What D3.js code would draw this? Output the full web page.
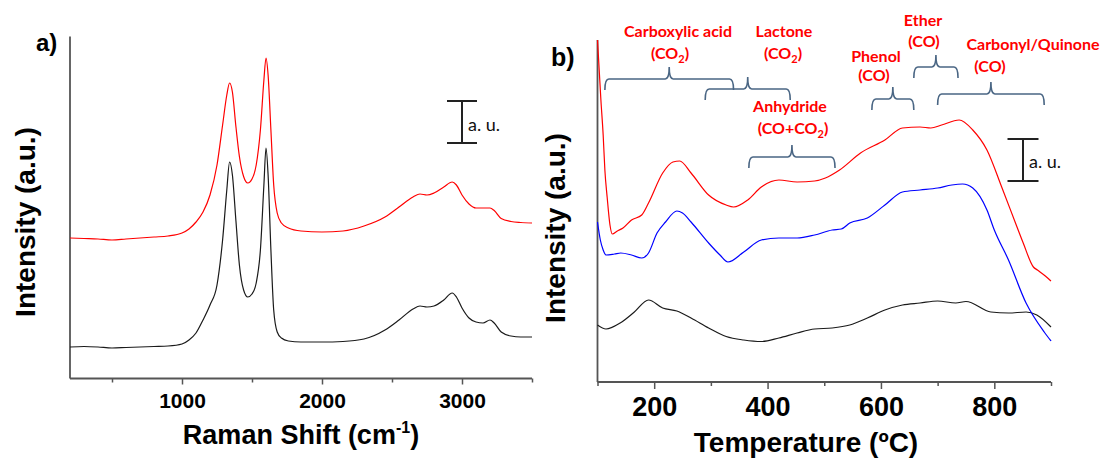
<!DOCTYPE html>
<html><head><meta charset="utf-8">
<script src="https://cdn.jsdelivr.net/npm/d3@7"></script>
<style>body{margin:0;background:#fff}svg{display:block}</style>
</head><body><svg id="c" width="1103" height="458"></svg>
<script>
// ---------- DATA ----------
// a) Raman spectra (arbitrary intensity)
const ramanShift = [200,300,400,500,600,700,800,900,1000,1050,1100,1150,1200,1250,1290,1320,1340,1360,1385,1410,1440,1470,1500,1530,1560,1585,1600,1615,1635,1655,1680,1710,1760,1850,2000,2150,2300,2450,2550,2650,2700,2750,2800,2870,2930,2960,3000,3050,3100,3150,3200,3230,3280,3350,3420,3500];
const ramanBlack = [31.5,32,31.5,30.5,31,31.5,32,32.5,34.5,38.5,45.5,58.5,73.5,93.5,138.5,188.5,216.5,203.5,158,113.5,88.5,81.5,84.5,95.5,128.5,193.5,230.5,203.5,128.5,68.5,46.5,40.5,37.5,36.5,36.5,37,39.5,48.5,58.5,69.5,72.5,71.5,72.5,78.5,85.5,81.5,70.5,60.5,56.5,55.5,58.5,55.5,46.5,42.5,41.5,41.5];
const ramanRed = [140.5,140,139.5,138.5,139.5,140.5,141.5,142.5,145.5,149.5,156.5,166.5,183.5,213.5,253.5,283.5,295.5,286.5,252,222,202,195.5,199.5,213.5,248.5,298.5,320.5,303.5,248.5,193.5,165.5,155.5,150.5,147.5,146.5,147.5,152.5,161.5,171.5,181.5,184.5,183.5,185.5,191.5,196.5,193.5,183.5,174.5,170.5,170.5,170.5,168,160,157,156,155.5];
const ramanTicks = [1000,2000,3000];
const ramanMinor = [500,1500,2500,3500];

// b) TPD profiles (arbitrary intensity)
const tempRed = [100,103,106,110,113,117,122,126,135,145,160,178,190,215,233,245,265,296,327,340,365,389,420,452,483,502,527,564,607,638,669,688,707,738,762,787,813,838,851,869,876,890,900];
const tpdRed = [342,312,282,247,212,185,157,148,151,154,162,167,179,209,220,221,209,187,177,175,182,195,202,200,201,204,212,229,242,254,255,254,257,262,252,232,195,158,139,115,112,106,101];
const tempBlue = [100,105,110,115,130,141,160,178,190,205,220,240,250,265,296,316,330,358,389,420,452,483,514,530,545,576,607,638,669,700,725,744,762,787,800,825,856,888,900];
const tpdBlue = [160,142,132,127,128,129,127,124,129,149,160,171,169,160,139,127,120,130,142,144,144,147,152,153,159,164,177,190,192,194,197,198,194,172,152,122,79,50,41];
const tempBlack = [100,115,140,165,190,215,240,265,296,327,358,389,420,452,483,514,545,576,607,638,669,700,732,750,794,825,856,875,900];
const tpdBlack = [57,53,59,70,82,74,71,64,54,45.5,42,40.5,44,49,53,54,57,64,72,77,79,81,79,80.5,70,69,70,67,55];
const tempTicks = [200,400,600,800];
const tempMinor = [100,300,500,700,900];

// surface groups (name, evolved gas, temperature range)
const groupNames = ["Carboxylic acid","Lactone","Anhydride","Phenol","Ether","Carbonyl/Quinone"];
const groupGas = ["CO2","CO2","CO+CO2","CO","CO","CO"];
const groupRange = [[113,340],[290,440],[367,519],[584,658],[658,736],[700,888]];

// ---------- LAYOUT ----------
const svg = d3.select("#c");
const AX = "#555";
const axisFont = "'Liberation Sans', Arial, sans-serif";
const annFont = "Lato, 'Liberation Sans', sans-serif";

function drawAxis(g, x, y, ticks, minor, majLen, minLen, fs, labelDy) {
  const yb = y.range()[0];
  const major = d3.axisBottom(x).tickValues(ticks).tickFormat(d3.format("d"))
    .tickSize(majLen).tickSizeOuter(0).tickPadding(labelDy);
  const gm = g.append("g").attr("transform", `translate(0,${yb})`).call(major);
  gm.select(".domain").remove();
  gm.selectAll("line").attr("stroke", AX).attr("stroke-width", 1.5);
  gm.selectAll("text").attr("font-family", axisFont).attr("font-weight", "bold")
    .attr("font-size", fs).attr("fill", "#000");
  const mn = d3.axisBottom(x).tickValues(minor).tickSize(minLen).tickFormat("");
  const gn = g.append("g").attr("transform", `translate(0,${yb})`).call(mn);
  gn.select(".domain").remove();
  gn.selectAll("line").attr("stroke", AX).attr("stroke-width", 1.5);
  g.append("line").attr("x1", x.range()[0]).attr("x2", x.range()[1]).attr("y1", yb).attr("y2", yb)
    .attr("stroke", AX).attr("stroke-width", 1.8);
  g.append("line").attr("x1", x.range()[0]).attr("x2", x.range()[0]).attr("y1", y.range()[0]).attr("y2", y.range()[1])
    .attr("stroke", AX).attr("stroke-width", 1.8);
}

function drawLine(g, x, y, xs, ys, color) {
  const pts = xs.map((v, i) => [v, ys[i]]);
  g.append("path").datum(pts)
    .attr("fill", "none").attr("stroke", color).attr("stroke-width", 1.2)
    .attr("d", d3.line().x(d => x(d[0])).y(d => y(d[1])).curve(d3.curveMonotoneX));
}

function scaleBar(g, cx, y0, y1, w, tx, ty) {
  g.append("line").attr("x1", cx).attr("x2", cx).attr("y1", y0).attr("y2", y1).attr("stroke", "#222").attr("stroke-width", 2);
  [y0, y1].forEach(yy => g.append("line").attr("x1", cx - w / 2).attr("x2", cx + w / 2).attr("y1", yy).attr("y2", yy)
    .attr("stroke", "#222").attr("stroke-width", 2));
  g.append("text").attr("x", tx).attr("y", ty).attr("font-family", annFont).attr("font-size", 18).attr("fill", "#111").text("a. u.");
}

// ---------- PANEL a ----------
const ga = svg.append("g");
const xA = d3.scaleLinear().domain([200, 3500]).range([70, 532]);
const yA = d3.scaleLinear().domain([0, 342]).range([378.5, 36.5]);
drawAxis(ga, xA, yA, ramanTicks, ramanMinor, 6, 4, 21, 9);
drawLine(ga, xA, yA, ramanShift, ramanBlack, "#1a1a1a");
drawLine(ga, xA, yA, ramanShift, ramanRed, "#ff0000");
scaleBar(ga, 462, 101, 143, 30, 468, 131);
ga.append("text").attr("x", 36).attr("y", 51).attr("font-family", axisFont).attr("font-weight", "bold")
  .attr("font-size", 24).text("a)");
const tA = ga.append("text").attr("x", 301).attr("y", 444).attr("text-anchor", "middle")
  .attr("font-family", axisFont).attr("font-weight", "bold").attr("font-size", 27);
tA.append("tspan").text("Raman Shift (cm");
tA.append("tspan").attr("dy", -11).attr("font-size", 16).text("-1");
tA.append("tspan").attr("dy", 11).text(")");
ga.append("text").attr("transform", "translate(35,222) rotate(-90)").attr("text-anchor", "middle")
  .attr("font-family", axisFont).attr("font-weight", "bold").attr("font-size", 28).text("Intensity (a.u.)");

// ---------- PANEL b ----------
const gb = svg.append("g");
const xB = d3.scaleLinear().domain([100, 900]).range([597.5, 1051]);
const yB = d3.scaleLinear().domain([0, 342]).range([382, 40]);
drawAxis(gb, xB, yB, tempTicks, tempMinor, 7, 4, 27, 8);
drawLine(gb, xB, yB, tempBlack, tpdBlack, "#1a1a1a");
drawLine(gb, xB, yB, tempBlue, tpdBlue, "#0000ff");
drawLine(gb, xB, yB, tempRed, tpdRed, "#ff0000");
scaleBar(gb, 1023, 139, 181, 31, 1029, 168);
gb.append("text").attr("x", 551).attr("y", 66).attr("font-family", axisFont).attr("font-weight", "bold")
  .attr("font-size", 25).text("b)");
gb.append("text").attr("x", 806).attr("y", 452).attr("text-anchor", "middle")
  .attr("font-family", axisFont).attr("font-weight", "bold").attr("font-size", 28).text("Temperature (ºC)");
gb.append("text").attr("transform", "translate(565,228) rotate(-90)").attr("text-anchor", "middle")
  .attr("font-family", axisFont).attr("font-weight", "bold").attr("font-size", 28).text("Intensity (a.u.)");

// braces: bar y per group
const braceY = [79, 89, 157, 99, 67, 94];
const BR = "#4a6684";
groupRange.forEach((r, i) => {
  const x0 = xB(r[0]), x1 = xB(r[1]), xc = (x0 + x1) / 2, yh = braceY[i];
  const ye = yh + 11, yt = yh - 12, rr = 4;
  const p = d3.path();
  p.moveTo(x0, ye);
  p.quadraticCurveTo(x0, yh, x0 + rr, yh);
  p.lineTo(xc - rr, yh);
  p.quadraticCurveTo(xc, yh, xc, yt);
  p.quadraticCurveTo(xc, yh, xc + rr, yh);
  p.lineTo(x1 - rr, yh);
  p.quadraticCurveTo(x1, yh, x1, ye);
  gb.append("path").attr("d", p.toString()).attr("fill", "none").attr("stroke", BR).attr("stroke-width", 1.6);
});

// labels: [name x, name baseline, gas x, gas baseline]
const labelPos = [[678, 37, 670, 59], [784, 37, 783, 59], [790, 112, 793, 134],
                  [876, 62, 874, 81], [923, 26, 924, 47], [1033, 50, 990, 72]];
function gasText(t, gas) {
  t.append("tspan").text("(");
  if (gas.endsWith("2")) {
    t.append("tspan").text(gas.slice(0, -1));
    t.append("tspan").attr("dy", 4).attr("font-size", 11).text("2");
    t.append("tspan").attr("dy", -4).text(")");
  } else {
    t.append("tspan").text(gas + ")");
  }
}
groupNames.forEach((n, i) => {
  const lp = labelPos[i];
  gb.append("text").attr("x", lp[0]).attr("y", lp[1]).attr("text-anchor", "middle")
    .attr("font-family", annFont).attr("font-weight", "bold").attr("font-size", 16).attr("fill", "#ff0000").text(n);
  const t = gb.append("text").attr("x", lp[2]).attr("y", lp[3]).attr("text-anchor", "middle")
    .attr("font-family", annFont).attr("font-weight", "bold").attr("font-size", 16).attr("fill", "#ff0000");
  gasText(t, groupGas[i]);
});
</script></body></html>
